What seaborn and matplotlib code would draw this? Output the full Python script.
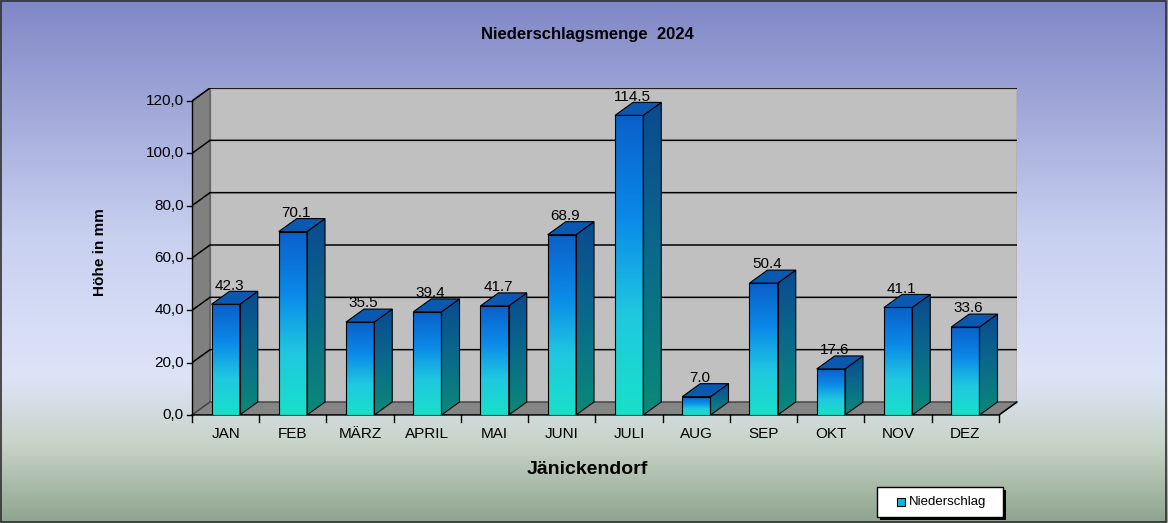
import numpy as np
import pandas as pd
import matplotlib
matplotlib.use("Agg")
import matplotlib.pyplot as plt
from matplotlib.patches import Polygon
from matplotlib.colors import LinearSegmentedColormap
import seaborn as sns

months = ["JAN", "FEB", "MÄRZ", "APRIL", "MAI", "JUNI", "JULI", "AUG", "SEP", "OKT", "NOV", "DEZ"]
values = [42.3, 70.1, 35.5, 39.4, 41.7, 68.9, 114.5, 7.0, 50.4, 17.6, 41.1, 33.6]
yticks = [0, 20, 40, 60, 80, 100, 120]

plt.rcParams["font.family"] = "Liberation Sans"
W, H = 1168, 523
fig = plt.figure(figsize=(W / 100, H / 100), dpi=100)

# background gradient
bg = fig.add_axes([0, 0, 1, 1]); bg.set_axis_off()
bgcm = LinearSegmentedColormap.from_list("bg", [(0, "#8087c6"), (0.45, "#c8d0f0"), (0.72, "#dde4f8"), (0.85, "#c8d4c8"), (1, "#8ea48e")])
bg.imshow(np.linspace(0, 1, 256)[:, None], aspect="auto", cmap=bgcm, extent=[0, 1, 0, 1])
bg.set_xlim(0, 1); bg.set_ylim(0, 1)
bg.add_patch(plt.Rectangle((0.001, 0.002), 0.997, 0.996, fill=False, ec="#303030", lw=1.2))

# plot axes: front 0 at y=415, back top 120+dy at y=88
L, R, B, T = 192, 1017, 415, 88
ax = fig.add_axes([L / W, 1 - B / H, (R - L) / W, (B - T) / H])
ax.set_facecolor("none")
band = (998 - 192) / 12
dx = 18 / band
ypx = (415 - 101) / 120
dy = 13 / ypx
ax.set_xlim(-0.5, 11.5 + dx)
ax.set_ylim(0, 120 + dy)
for s in ax.spines.values():
    s.set_visible(False)

ax.add_patch(Polygon([(-0.5 + dx, dy), (11.5 + dx, dy), (11.5 + dx, 120 + dy), (-0.5 + dx, 120 + dy)], fc="#c0c0c0", ec="#808080", lw=1, zorder=0))
ax.add_patch(Polygon([(-0.5, 0), (-0.5 + dx, dy), (-0.5 + dx, 120 + dy), (-0.5, 120)], fc="#808080", ec="#606060", lw=1, zorder=0))
ax.add_patch(Polygon([(-0.5, 0), (11.5, 0), (11.5 + dx, dy), (-0.5 + dx, dy)], fc="#858585", ec="#404040", lw=1, zorder=0))
for t in yticks[1:]:
    ax.plot([-0.5, -0.5 + dx, 11.5 + dx], [t, t + dy, t + dy], color="black", lw=1.1, zorder=1)

df = pd.DataFrame({"m": months, "v": values})
sns.barplot(data=df, x="m", y="v", width=0.42, color="#0080e0", ax=ax, zorder=3, edgecolor="black", linewidth=0.8, native_scale=False)
ax.set_xlim(-0.5, 11.5 + dx)
ax.set_ylim(0, 120 + dy)

frontcm = LinearSegmentedColormap.from_list("f", ["#18e0c8", "#20c8e0", "#0a88e8", "#0a60c8"])
sidecm = LinearSegmentedColormap.from_list("s", ["#0a8a78", "#0a6a8a", "#0a4a90"])
grad = np.linspace(0, 1, 256)[:, None]
for p, v in zip(ax.patches[-12:], values):
    x0, w = p.get_x(), p.get_width()
    im = ax.imshow(grad, origin="lower", aspect="auto", cmap=frontcm, extent=[x0, x0 + w, 0, v], zorder=3)
    im.set_clip_path(p)
    p.set_facecolor("none"); p.set_zorder(4)
    side = Polygon([(x0 + w, 0), (x0 + w + dx, dy), (x0 + w + dx, v + dy), (x0 + w, v)], fc="none", ec="black", lw=0.8, zorder=4)
    ax.add_patch(side)
    im2 = ax.imshow(grad, origin="lower", aspect="auto", cmap=sidecm, extent=[x0 + w, x0 + w + dx, 0, v + dy], zorder=3)
    im2.set_clip_path(side)
    ax.add_patch(Polygon([(x0, v), (x0 + w, v), (x0 + w + dx, v + dy), (x0 + dx, v + dy)], fc="#0a58b0", ec="black", lw=0.8, zorder=4))
    ax.text(x0 + w / 2 + 0.05, v + dy - 0.5, f"{v:.1f}", ha="center", va="bottom", fontsize=11, zorder=5)

# axes lines & ticks
ax.plot([-0.5, -0.5], [0, 120], color="black", lw=1, zorder=2, clip_on=False)
ax.plot([-0.5, 11.5, 11.5 + dx], [0, 0, dy], color="black", lw=1, zorder=2, clip_on=False)
for t in yticks:
    ax.plot([-0.5 - 0.08, -0.5], [t, t], color="black", lw=1, clip_on=False)
for i in range(13):
    ax.plot([i - 0.5, i - 0.5], [0, -2.5], color="black", lw=1, clip_on=False)
ax.set_xticks([]); ax.set_yticks([])
ax.set_xlabel(""); ax.set_ylabel("")
for t in yticks:
    ax.text(-0.62, t, f"{t:.1f}".replace(".", ","), ha="right", va="center", fontsize=11, clip_on=False)
for i, m in enumerate(months):
    ax.text(i, -4.5, m, ha="center", va="top", fontsize=11, clip_on=False)

fig.text(587 / W, 1 - 35 / H, "Niederschlagsmenge  2024", ha="center", va="center", fontsize=12, fontweight="bold")
fig.text(100 / W, 1 - 252 / H, "Höhe in mm", ha="center", va="center", rotation=90, fontsize=11, fontweight="bold")
fig.text(587 / W, 1 - 470 / H, "Jänickendorf", ha="center", va="center", fontsize=14, fontweight="bold")

# legend box with shadow
lx, ly, lw_, lh = 877, 487, 126, 30
fig.patches.append(plt.Rectangle(((lx + 3) / W, 1 - (ly + lh + 3) / H), lw_ / W, lh / H, transform=fig.transFigure, fc="black", ec="none"))
fig.patches.append(plt.Rectangle((lx / W, 1 - (ly + lh) / H), lw_ / W, lh / H, transform=fig.transFigure, fc="white", ec="black", lw=1))
fig.patches.append(plt.Rectangle((897 / W, 1 - 506 / H), 8 / W, 8 / H, transform=fig.transFigure, fc="#10b8d8", ec="black", lw=0.8))
fig.text(909 / W, 1 - 502 / H, "Niederschlag", ha="left", va="center", fontsize=9.5)

fig.savefig("out.png", dpi=100)
